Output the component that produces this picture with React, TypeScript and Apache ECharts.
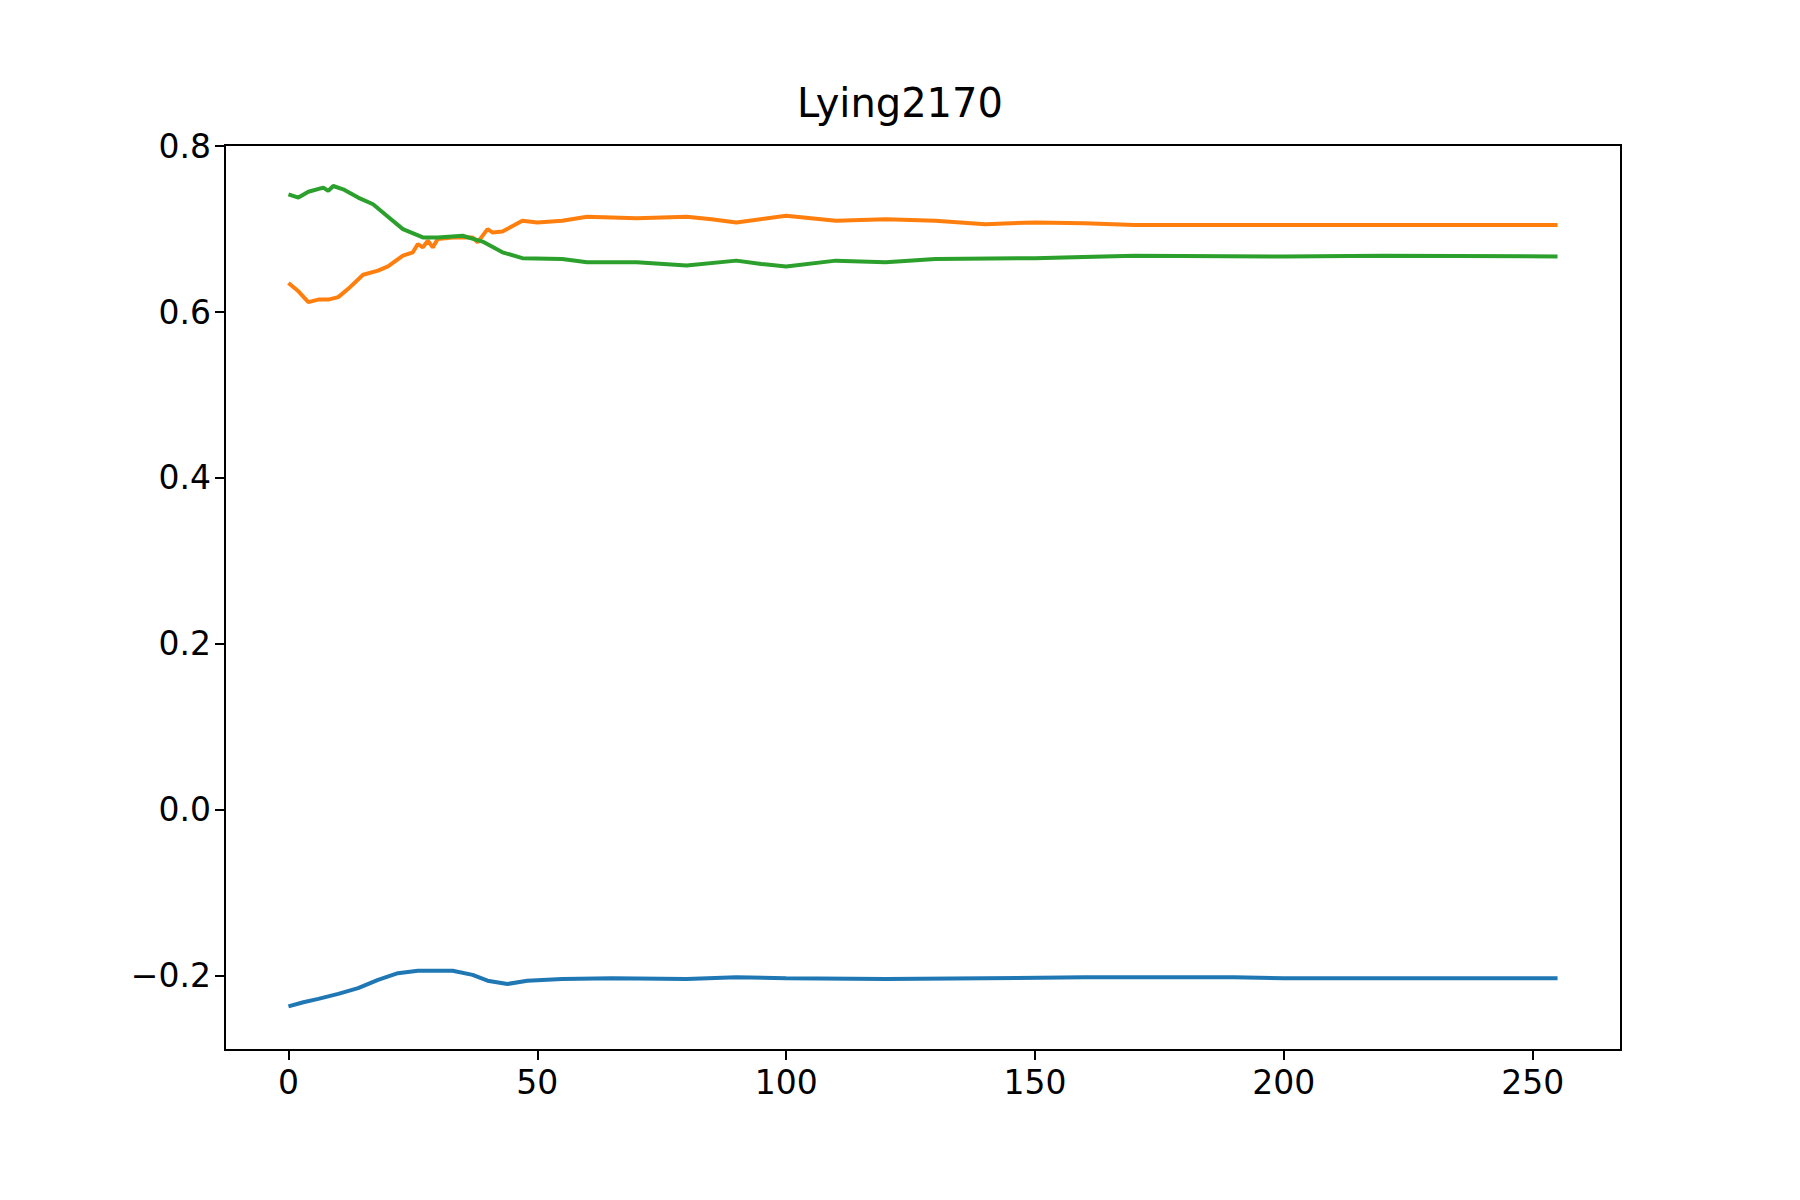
import React, { useEffect, useRef } from "react";
import * as echarts from "echarts";

const title = "Lying2170";
const xTicks = [0, 50, 100, 150, 200, 250];
const yTicks = [-0.2, 0, 0.2, 0.4, 0.6, 0.8];

const greenX = [0, 2, 4, 7, 8, 9, 11, 14, 17, 20, 23, 27, 30, 35, 39, 43, 47, 55, 60, 70, 80, 90, 95, 100, 110, 120, 130, 150, 170, 200, 220, 255];
const greenY = [0.742, 0.738, 0.745, 0.75, 0.746, 0.752, 0.748, 0.738, 0.73, 0.715, 0.70, 0.69, 0.69, 0.692, 0.685, 0.672, 0.665, 0.664, 0.66, 0.66, 0.656, 0.662, 0.658, 0.655, 0.662, 0.66, 0.664, 0.665, 0.668, 0.667, 0.668, 0.667];

const orangeX = [0, 2, 4, 6, 8, 10, 12, 15, 18, 20, 23, 25, 26, 27, 28, 29, 30, 33, 35, 37, 38, 40, 41, 43, 47, 50, 55, 60, 70, 80, 85, 90, 100, 110, 120, 130, 140, 150, 160, 170, 185, 200, 220, 255];
const orangeY = [0.635, 0.625, 0.612, 0.615, 0.615, 0.618, 0.628, 0.645, 0.65, 0.655, 0.668, 0.672, 0.682, 0.678, 0.686, 0.678, 0.688, 0.69, 0.69, 0.69, 0.684, 0.70, 0.696, 0.697, 0.71, 0.708, 0.71, 0.715, 0.713, 0.715, 0.712, 0.708, 0.716, 0.71, 0.712, 0.71, 0.706, 0.708, 0.707, 0.705, 0.705, 0.705, 0.705, 0.705];

const blueX = [0, 3, 6, 10, 14, 18, 22, 26, 33, 37, 40, 44, 48, 55, 65, 80, 90, 100, 120, 140, 160, 190, 200, 255];
const blueY = [-0.237, -0.232, -0.228, -0.222, -0.215, -0.205, -0.197, -0.194, -0.194, -0.199, -0.206, -0.21, -0.206, -0.204, -0.203, -0.204, -0.202, -0.203, -0.204, -0.203, -0.202, -0.202, -0.203, -0.203];

const zip = (xs: number[], ys: number[]) => xs.map((x, i) => [x, ys[i]]);

export default function App() {
  const ref = useRef<HTMLDivElement>(null);
  useEffect(() => {
    document.body.style.margin = "0";
    const chart = echarts.init(ref.current!, null, { renderer: "svg" });
    const font = "DejaVu Sans";
    const axisCommon = {
      axisLine: { show: true, onZero: false, lineStyle: { color: "#000", width: 2 } },
      splitLine: { show: false },
    };
    chart.setOption({
      animation: false,
      backgroundColor: "#fff",
      textStyle: { fontFamily: font },
      title: { text: title, left: "center", top: 78, textStyle: { fontFamily: font, fontSize: 40, fontWeight: "normal", color: "#000" } },
      grid: { left: 225, top: 145, right: 179, bottom: 150, show: true, borderColor: "#000", borderWidth: 2 },
      xAxis: {
        type: "value", min: -12.75, max: 267.75, ...axisCommon,
        axisTick: { show: true, length: 10, customValues: xTicks, lineStyle: { color: "#000", width: 2 } },
        axisLabel: { customValues: xTicks, fontSize: 33, color: "#000", margin: 16, fontFamily: font },
      },
      yAxis: {
        type: "value", min: -0.2896, max: 0.8014, ...axisCommon,
        axisTick: { show: true, length: 10, customValues: yTicks, lineStyle: { color: "#000", width: 2 } },
        axisLabel: { customValues: yTicks, fontSize: 33, color: "#000", margin: 14, fontFamily: font,
          formatter: (v: number) => (v < 0 ? "\u2212" : "") + Math.abs(v).toFixed(1) },
      },
      series: [
        { type: "line", data: zip(blueX, blueY), showSymbol: false, lineStyle: { color: "#1f77b4", width: 4 } },
        { type: "line", data: zip(orangeX, orangeY), showSymbol: false, lineStyle: { color: "#ff7f0e", width: 4 } },
        { type: "line", data: zip(greenX, greenY), showSymbol: false, lineStyle: { color: "#2ca02c", width: 4 } },
      ],
    });
    return () => chart.dispose();
  }, []);
  return <div ref={ref} style={{ width: 1800, height: 1200 }} />;
}
